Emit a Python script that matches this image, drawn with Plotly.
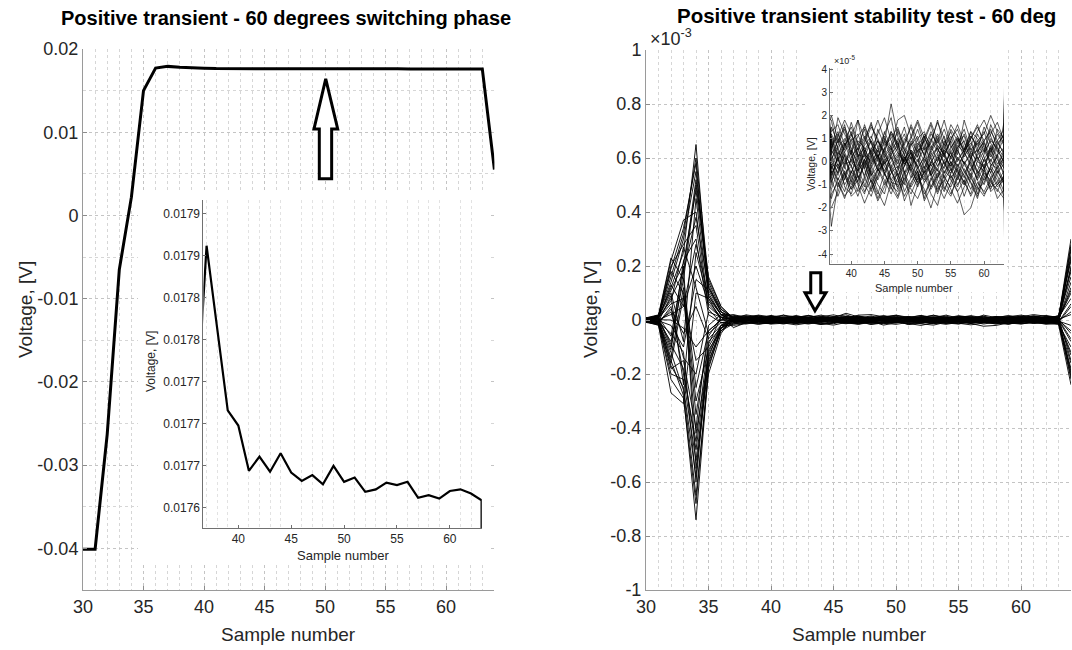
import plotly.graph_objects as go

W, H = 1072, 650
FONT = "Liberation Sans, Arial, sans-serif"

samples = list(range(30, 65))

# left panel: one switching event at 60 degrees, volts (x = 30..64)
voltage_60deg = [-0.0401, -0.0401, -0.0263, -0.0065, 0.0022, 0.0150, 0.0177,
                 0.017912, 0.017814, 0.017716, 0.017698, 0.017644, 0.017661, 0.017643,
                 0.017665, 0.017642, 0.017632, 0.017639, 0.017628, 0.017650, 0.017631,
                 0.017636, 0.017619, 0.017622, 0.017630, 0.017627, 0.017631, 0.017612,
                 0.017615, 0.017611, 0.017620, 0.017622, 0.017617, 0.017609, 0.0055]

# right panel: repeated runs
# samples 30..36 in 1e-3 V
run_start_mv = [
    [0.005, 0.010, 0.12, 0.25, 0.65, 0.10, 0.02],
    [-0.004, -0.010, -0.15, -0.28, -0.74, -0.18, -0.03],
    [0.002, 0.015, 0.22, 0.37, 0.40, 0.05, 0.01],
    [-0.006, -0.020, -0.27, -0.31, 0.10, 0.08, 0.02],
    [0.003, 0.005, 0.08, 0.18, 0.52, 0.14, 0.04],
    [-0.002, -0.008, -0.05, -0.12, -0.60, -0.12, -0.02],
    [0.008, 0.012, 0.18, 0.10, -0.35, -0.06, 0.01],
    [-0.005, 0.004, -0.10, 0.22, 0.30, 0.02, -0.01],
    [0.001, -0.012, 0.05, -0.20, -0.45, -0.08, -0.03],
    [0.004, 0.018, 0.14, 0.30, 0.55, 0.12, 0.03],
    [-0.007, -0.015, -0.20, -0.22, -0.52, -0.15, -0.04],
    [0.006, 0.002, 0.02, 0.05, 0.20, 0.06, 0.01],
    [-0.003, -0.005, -0.08, 0.15, -0.25, -0.04, 0.00],
    [0.002, 0.009, 0.10, -0.08, 0.45, 0.09, 0.02],
    [-0.009, -0.018, -0.12, -0.26, -0.65, -0.20, -0.05],
    [0.007, 0.014, 0.20, 0.28, 0.35, 0.04, -0.01],
    [0.000, -0.003, -0.02, -0.10, 0.15, 0.11, 0.03],
    [-0.004, 0.007, 0.06, 0.08, -0.15, -0.10, -0.02],
    [0.003, -0.010, -0.18, -0.15, -0.40, -0.02, 0.02],
    [0.005, 0.016, 0.16, 0.32, 0.60, 0.15, 0.05],
    [-0.006, -0.012, 0.04, -0.05, 0.05, -0.07, -0.02],
    [0.001, 0.011, -0.06, 0.20, -0.55, -0.16, -0.03],
    [-0.008, -0.006, 0.09, -0.24, 0.25, 0.07, 0.01],
    [0.004, 0.003, -0.14, 0.12, -0.30, -0.11, -0.04],
    [0.006, 0.013, 0.11, 0.21, 0.48, 0.13, 0.03],
    [-0.005, -0.014, -0.17, -0.25, -0.58, -0.09, 0.01],
    [0.002, 0.006, 0.13, 0.05, 0.28, 0.09, 0.02],
    [-0.003, 0.008, -0.09, -0.18, -0.48, -0.13, -0.03],
    [0.007, 0.017, 0.19, 0.34, 0.58, 0.08, 0.00],
    [-0.002, -0.004, 0.03, -0.14, -0.20, 0.03, 0.01],
    [0.004, -0.007, -0.11, 0.18, 0.38, 0.12, 0.04],
    [-0.007, -0.016, -0.22, -0.29, -0.68, -0.17, -0.04],
    [0.001, 0.012, 0.07, 0.27, 0.12, -0.05, -0.01],
    [-0.006, -0.002, -0.16, 0.09, -0.42, -0.14, -0.02],
    [0.008, 0.019, 0.23, 0.15, 0.50, 0.16, 0.05],
    [-0.001, 0.001, 0.00, -0.03, -0.10, -0.04, 0.00],
]

# samples 37..63 in 1e-5 V
run_steady_e5 = [
    [1.8, 0.5, -0.3, 0.9, 1.2, 0.4, -0.6, 0.2, 0.8, 2.5, 1.1, 0.3, -0.4, 0.6, 0.9, -0.2, 0.1, 0.7, 1.3, 0.5, -0.1, 0.4, 0.8, 0.2, -0.5, 0.3, 0.6],
    [-1.2, -0.4, 0.3, -0.8, -1.5, -0.6, 0.2, -0.3, -1.0, -0.5, 0.1, -0.9, -1.4, -0.7, -0.2, -1.1, -0.6, 0.0, -0.8, -1.3, -2.3, -2.0, -1.1, -0.4, -0.9, -1.2, -1.6],
    [0.4, 1.9, 1.2, 0.6, -0.2, 0.8, 1.5, 1.0, 0.3, 0.7, 1.8, 2.0, 1.1, 0.4, 0.9, 1.6, 0.5, 0.2, 1.0, 1.4, 0.6, 0.1, 0.9, 1.2, 2.0, 1.3, 0.8],
    [-0.6, 0.2, -1.1, -1.4, -0.5, 0.1, -0.7, -1.6, -0.9, -0.3, -1.2, -0.4, -1.9, -1.0, -0.6, -0.1, -0.8, -1.3, -0.5, 0.2, -0.4, -0.9, -1.5, -0.7, -0.3, -1.0, -0.6],
    [0.9, 0.1, 0.6, 1.7, 0.8, -0.1, 0.5, 1.2, 1.9, 0.9, 0.4, 0.0, 0.7, 1.4, 0.5, 0.8, 1.8, 0.6, 0.2, 0.9, 1.1, 0.3, 0.5, 1.5, 0.8, 0.2, 1.7],
    [-2.0, -1.3, -0.5, -0.2, -0.9, -1.4, -0.3, 0.3, -0.5, -1.1, -1.6, -0.8, -0.2, -0.6, -1.2, -2.0, -1.0, -0.4, -0.7, -0.3, -0.9, -1.4, -0.6, 0.1, -0.5, -1.1, -0.8],
    [0.2, -0.6, 0.8, 0.3, 1.8, 1.0, 0.4, -0.2, 0.6, 1.3, 0.7, 0.1, 0.5, -0.3, 0.2, 0.9, 1.7, 1.0, 0.4, -0.2, 0.3, 1.0, 1.6, 0.7, 0.2, 0.8, 0.4],
    [-0.3, 0.6, -0.2, -0.9, 0.1, 0.7, 1.1, 0.3, -0.4, 0.2, -0.6, -1.0, 0.0, 0.8, 0.3, -0.5, 0.2, -0.3, 0.6, 1.0, 0.4, -0.2, -0.7, 0.1, 0.6, -0.1, 0.3],
    [1.5, 0.8, 1.6, 0.2, -0.4, 0.5, 1.0, 1.8, 0.9, 0.1, 0.6, 1.2, 0.3, -0.2, 1.1, 0.4, 0.9, 1.8, 0.7, 0.0, 0.5, 1.3, 0.4, 0.9, 1.4, 0.6, -0.1],
    [-0.8, -1.5, -0.7, 0.1, -0.3, -1.0, -1.5, -0.6, 0.2, -0.4, -0.9, -0.2, 0.4, -0.5, -1.4, -0.8, -0.3, -1.1, -1.5, -0.6, 0.0, -0.7, -1.2, -0.9, -0.2, -0.6, -1.3],
    [0.6, 1.2, 0.2, -0.5, 0.4, 1.6, 0.8, 0.0, 1.3, 0.6, -0.3, 0.5, 1.0, 1.7, 0.7, 0.1, -0.4, 0.6, 1.1, 0.3, 1.8, 0.9, 0.2, -0.3, 0.5, 1.2, 0.7],
    [-2.8, -1.0, -0.4, -1.2, -0.8, -0.1, -0.9, -1.7, -1.1, -0.5, -0.2, -1.3, -0.7, 0.1, -0.6, -1.4, -1.9, -0.8, -0.3, -1.0, -0.5, 0.0, -0.8, -1.4, -1.0, -0.4, -0.9],
    [0.1, 0.7, 1.4, 0.5, 0.0, -0.6, 0.3, 0.9, 0.4, -0.3, 0.2, 0.8, 1.5, 0.6, 0.0, 0.4, -0.2, 0.3, 0.9, 1.6, 0.8, 0.2, -0.4, 0.3, 1.0, 0.5, 0.0],
    [-0.5, -0.1, -0.8, 0.2, 0.6, -0.3, -1.2, -0.6, 0.1, -0.8, -0.3, 0.3, -0.5, -1.1, -0.4, 0.2, -0.7, -0.2, 0.4, -0.4, -1.0, -0.3, 0.2, -0.6, -1.2, -0.5, 0.1],
    [1.1, 0.3, 0.9, 1.5, 0.7, 1.4, 0.2, 0.6, 1.2, 1.9, 0.5, -0.1, 0.8, 0.2, 1.0, 1.7, 0.9, 0.3, -0.2, 0.7, 0.4, 1.1, 0.6, 0.0, 0.3, 1.4, 1.0],
    [-1.6, -0.7, -1.3, -0.4, -1.0, -1.8, -1.1, -0.3, -0.8, -1.4, -0.7, -1.5, -0.9, -0.4, -1.7, -1.1, -0.5, -1.2, -0.6, -1.3, -0.8, -1.5, -0.9, -1.3, -0.7, -1.6, -1.2],
    [0.8, -0.2, 0.4, 1.0, 0.2, 0.9, 1.7, 0.6, -0.1, 0.4, 1.0, 0.5, -0.2, 0.3, 1.2, 0.7, 0.0, 0.5, 0.2, 0.8, 1.4, 0.5, 0.9, 0.4, 1.6, 0.9, 0.3],
    [-0.1, -0.9, -1.6, -0.7, -0.2, 0.5, -0.4, -1.0, -1.4, -0.2, 0.3, -0.5, -1.1, -0.6, 0.1, -0.3, -1.0, -1.6, -0.9, -0.1, -0.6, -1.2, -0.4, -0.8, -0.3, -0.8, -1.5],
    [1.3, 1.6, 0.7, 1.1, 1.8, 0.3, 0.0, 1.4, 0.7, 1.0, 1.5, 0.6, 0.2, 1.0, 1.3, 0.5, 1.1, 0.4, 1.4, 0.9, 0.2, 0.7, 1.3, 1.8, 1.1, 0.4, 1.0],
    [0.3, -0.3, 0.0, 0.5, -0.7, -0.2, 0.6, 0.2, -0.5, 0.0, 0.4, -0.1, 0.2, -0.8, -0.3, 0.3, 0.6, -0.1, -0.5, 0.1, 0.0, -0.4, 0.3, 0.5, -0.1, -0.3, 0.2],
    [-1.0, 0.4, 0.1, -0.6, -1.3, -0.8, -0.1, 0.5, -0.2, -0.9, -1.0, 0.2, -0.3, -0.9, -0.5, 0.0, -0.4, -0.7, 0.0, -0.5, -1.5, -0.7, 0.0, -0.2, -1.1, -0.9, -0.4],
    [0.0, 1.0, 0.5, 1.3, 0.3, 0.2, 0.9, 0.4, 1.0, 0.6, -0.1, 1.0, 0.7, 1.1, 0.2, 1.0, 0.4, 1.1, 0.1, 0.6, 0.9, 0.1, 1.2, 0.6, 0.0, 0.7, 1.2],
    [2.0, 0.9, -0.1, 0.0, 0.9, 0.6, -0.2, -0.8, 0.0, 0.5, 0.9, -0.5, -0.1, 0.5, 0.6, -0.6, 0.0, 0.9, -0.1, -0.7, 0.3, 0.6, -0.2, -0.4, 0.7, 0.1, -0.5],
    [-0.4, -1.1, -0.5, -1.5, -1.2, 0.1, -0.5, -1.3, -1.9, -0.9, -0.5, -1.7, -1.0, -0.4, -1.6, -0.7, -1.4, -0.6, -1.2, -1.8, -1.1, -0.6, -1.4, -0.3, -1.3, -1.0, -0.7],
    [0.7, 1.3, 0.4, -0.2, 0.6, 1.1, 0.3, -0.4, 0.5, 1.2, 0.6, 0.0, 0.9, 0.4, -0.3, 0.5, 1.0, 0.2, -0.2, 0.6, 1.2, 0.4, 0.0, 0.8, 0.3, -0.2, 0.5],
    [-0.9, -0.2, -1.0, -0.5, 0.2, -0.7, -1.3, -0.4, 0.0, -0.8, -1.5, -0.6, -0.1, -1.0, -0.4, -1.2, -0.7, 0.1, -0.6, -1.1, -0.3, -0.9, -1.6, -0.5, -0.8, -0.2, -0.9],
    [0.5, 0.0, 0.7, 1.2, 0.3, -0.3, 0.4, 0.9, 0.2, 0.6, 1.3, 0.5, 0.1, 0.7, 1.1, 0.2, 0.6, -0.1, 0.4, 1.0, 0.5, 0.8, 0.1, 0.4, 0.9, 0.6, 0.2],
    [-0.2, -0.8, -0.1, 0.4, -0.6, -1.1, -0.2, 0.3, -0.5, -1.2, -0.4, 0.1, -0.7, -0.3, 0.2, -0.6, -1.3, -0.5, 0.0, -0.4, -0.9, 0.1, -0.5, -1.0, -0.2, 0.2, -0.6],
    [1.2, 0.6, 1.0, 0.4, 1.1, 1.5, 0.8, 0.2, 0.9, 0.5, 1.4, 0.7, 1.6, 0.9, 0.3, 1.2, 0.8, 1.4, 0.6, 1.1, 0.5, 1.3, 1.0, 0.5, 1.2, 1.7, 0.9],
    [0.0, -0.5, 0.3, -0.2, -0.9, 0.1, 0.5, -0.4, -0.1, 0.3, -0.6, -0.2, 0.4, -0.3, -0.8, 0.0, 0.4, -0.5, 0.2, -0.2, -0.7, 0.2, 0.5, -0.3, 0.1, -0.5, -0.1],
    [0.3, 0.9, 1.5, 0.8, 0.2, 0.6, -0.1, 0.5, 1.1, 0.3, 0.7, 1.5, 0.4, 0.0, 0.6, 1.3, 0.7, 0.3, 0.9, 0.1, 0.5, 1.1, 0.7, 1.3, 0.4, 0.9, 1.4],
    [-1.4, -0.9, -1.5, -1.1, -0.6, -1.3, -0.8, -1.4, -0.5, -1.0, -1.3, -0.7, -1.2, -1.6, -0.9, -0.5, -1.2, -0.8, -1.4, -0.7, -1.0, -0.5, -1.1, -1.5, -0.8, -1.3, -0.6],
    [-0.7, 0.2, 0.8, 0.0, -0.4, 0.4, 0.9, 0.1, -0.6, 0.3, 0.8, -0.2, 0.5, 0.2, -0.5, -0.1, 0.7, 0.3, -0.4, 0.5, -0.1, -0.6, 0.4, 0.9, -0.2, 0.3, -0.3],
    [1.0, 0.2, -0.5, -1.0, -0.3, 0.3, -0.6, -0.2, 0.6, -0.4, -1.1, -0.5, 0.2, -0.2, -0.9, -0.4, 0.3, -0.7, -1.1, -0.3, 0.4, -0.1, -0.8, -0.2, 0.6, -0.4, -1.0],
    [0.6, 1.1, 1.8, 1.2, 0.5, 1.0, 1.6, 0.9, 0.4, 1.3, 0.8, 0.3, 1.1, 1.8, 1.0, 0.6, 1.2, 0.7, 1.6, 1.1, 0.4, 1.0, 1.5, 0.9, 1.3, 0.8, 1.1],
    [-0.3, 0.1, -0.6, -1.2, -0.4, 0.0, -0.9, -0.3, 0.3, -0.2, -0.7, 0.2, -0.4, -0.9, 0.0, -0.6, -0.2, 0.4, -0.3, -0.8, -0.1, 0.3, -0.5, -0.1, -0.7, -0.3, 0.2],
]

# sample 64 in 1e-3 V
run_end_mv = [0.30, -0.24, 0.18, -0.12, 0.22, -0.18, 0.10, -0.05, 0.14, 0.26, -0.20, 0.05,
              -0.08, 0.12, -0.15, 0.20, 0.02, -0.10, 0.08, 0.28, -0.02, 0.16, -0.22, 0.06,
              0.24, -0.19, 0.11, -0.13, 0.27, -0.04, 0.19, -0.21, 0.03, -0.16, 0.23, -0.07]

left_yticks = [-0.04, -0.03, -0.02, -0.01, 0, 0.01, 0.02]
left_yticktext = ["-0.04", "-0.03", "-0.02", "-0.01", "0", "0.01", "0.02"]
inset_left_yticks = [0.0176, 0.01765, 0.0177, 0.01775, 0.0178, 0.01785, 0.0179, 0.01795]
inset_left_yticktext = ["0.0176", "0.0177", "0.0177", "0.0177", "0.0178", "0.0178", "0.0179", "0.0179"]
right_yticks = [-1, -0.8, -0.6, -0.4, -0.2, 0, 0.2, 0.4, 0.6, 0.8, 1]
right_yticktext = ["-1", "-0.8", "-0.6", "-0.4", "-0.2", "0", "0.2", "0.4", "0.6", "0.8", "1"]
inset_right_yticks = [-4, -3, -2, -1, 0, 1, 2, 3, 4]
inset_right_yticktext = ["-4", "-3", "-2", "-1", "0", "1", "2", "3", "4"]


def px(x):
    return x / W


def py(y):
    return 1 - y / H


def main_axis(dom, rng, anchor, **kw):
    d = dict(domain=dom, range=rng, anchor=anchor, automargin=False, showline=True,
             linecolor="#9a9a9a", linewidth=1, mirror=False, zeroline=False, showgrid=True,
             gridcolor="#c4c4c4", griddash="dot", gridwidth=1, ticks="inside", ticklen=4,
             tickcolor="#8c8c8c", tickfont=dict(family=FONT, size=18, color="#262626"))
    d.update(kw)
    return d


def inset_axis(dom, rng, anchor, size, **kw):
    d = dict(domain=dom, range=rng, anchor=anchor, automargin=False, showline=True,
             linecolor="#707070", linewidth=1, mirror=False, zeroline=False, showgrid=False,
             ticks="inside", ticklen=3, tickcolor="#707070",
             tickfont=dict(family=FONT, size=size, color="#262626"))
    d.update(kw)
    return d


def cover_axis(dom, anchor):
    return dict(domain=dom, range=[0, 1], anchor=anchor, visible=False, automargin=False,
                showgrid=False, zeroline=False)


fig = go.Figure()

# main panels
fig.add_trace(go.Scatter(x=samples, y=voltage_60deg, mode="lines",
                         line=dict(color="black", width=3), xaxis="x", yaxis="y"))
for i in range(len(run_steady_e5)):
    y = run_start_mv[i] + [v / 100 for v in run_steady_e5[i]] + [run_end_mv[i]]
    fig.add_trace(go.Scatter(x=samples, y=y, mode="lines",
                             line=dict(color="black", width=0.9), xaxis="x2", yaxis="y2"))

# white boxes behind the insets
fig.add_trace(go.Scatter(x=[], y=[], xaxis="x3", yaxis="y3"))
fig.add_trace(go.Scatter(x=[], y=[], xaxis="x4", yaxis="y4"))

# insets
fig.add_trace(go.Scatter(x=samples, y=voltage_60deg, mode="lines",
                         line=dict(color="black", width=2.2), xaxis="x5", yaxis="y5"))
for i in range(len(run_steady_e5)):
    y = [v * 100 for v in run_start_mv[i]] + run_steady_e5[i] + [run_end_mv[i] * 100]
    fig.add_trace(go.Scatter(x=samples, y=y, mode="lines",
                             line=dict(color="rgba(0,0,0,0.9)", width=0.7), xaxis="x6", yaxis="y6"))

minor_x = dict(dtick=1, tick0=30, showgrid=True, gridcolor="#d6d6d6", griddash="dot", ticks="")

fig.update_layout(
    width=W, height=H, margin=dict(l=0, r=0, t=0, b=0, autoexpand=False),
    paper_bgcolor="white", plot_bgcolor="white", showlegend=False,
    xaxis=main_axis([px(83), px(494.4)], [30, 64], "y", dtick=5, tick0=30, minor=minor_x),
    yaxis=main_axis([py(590), py(49)], [-0.045, 0.02], "x", tickmode="array",
                    tickvals=left_yticks, ticktext=left_yticktext,
                    minor=dict(dtick=0.005, tick0=0, showgrid=True, gridcolor="#d6d6d6",
                               griddash="dot", ticks="")),
    xaxis2=main_axis([px(646), px(1071)], [30, 64], "y2", dtick=5, tick0=30, minor=minor_x),
    yaxis2=main_axis([py(590), py(50)], [-1, 1], "x2", tickmode="array",
                     tickvals=right_yticks, ticktext=right_yticktext),
    xaxis3=cover_axis([px(138), px(488)], "y3"),
    yaxis3=cover_axis([py(562), py(190)], "x3"),
    xaxis4=cover_axis([px(805), px(1007)], "y4"),
    yaxis4=cover_axis([py(292), py(45)], "x4"),
    xaxis5=inset_axis([px(203.4), px(481.8)], [36.7, 63.02], "y5", 12, dtick=5, tick0=30,
                      minor=dict(dtick=1, tick0=30, showgrid=True, gridcolor="#e2e2e2",
                                 griddash="dot", ticks="")),
    yaxis5=inset_axis([py(528), py(199.5)], [0.017576, 0.017967], "x5", 12, tickmode="array",
                      tickvals=inset_left_yticks, ticktext=inset_left_yticktext),
    xaxis6=inset_axis([px(830), px(1004)], [36.8, 63], "y6", 10, dtick=5, tick0=30,
                      minor=dict(dtick=1, tick0=30, showgrid=True, gridcolor="#e2e2e2",
                                 griddash="dot", ticks="")),
    yaxis6=inset_axis([py(264), py(68)], [-4.43, 4.05], "x6", 10, tickmode="array",
                      tickvals=inset_right_yticks, ticktext=inset_right_yticktext),
)

# hollow block arrows pointing at the zoomed regions
up_arrow = [(50.06, 0.0164), (51.05, 0.0104), (50.55, 0.0104), (50.55, 0.0044),
            (49.53, 0.0044), (49.53, 0.0104), (49.09, 0.0104)]
down_arrow = [(43.52, 0.034), (44.4, 0.101), (43.98, 0.101), (43.98, 0.175),
              (43.18, 0.175), (43.18, 0.101), (42.72, 0.101)]


def arrow_path(pts):
    return "M " + " L ".join(f"{x},{y}" for x, y in pts) + " Z"


fig.add_shape(type="path", path=arrow_path(up_arrow), xref="x", yref="y",
              line=dict(color="black", width=3), fillcolor="white", layer="above")
fig.add_shape(type="path", path=arrow_path(down_arrow), xref="x2", yref="y2",
              line=dict(color="black", width=3), fillcolor="white", layer="above")

txt = dict(family=FONT, color="#262626")
annotations = [
    dict(text="<b>Positive transient - 60 degrees switching phase</b>", x=px(285.5), y=py(18),
         font=dict(family=FONT, size=20, color="black")),
    dict(text="<b>Positive transient stability test - 60 deg</b>", x=px(866.7), y=py(16),
         font=dict(family=FONT, size=20.5, color="black")),
    dict(text="Voltage, [V]", x=px(25), y=py(310), textangle=-90, font=dict(size=19, **txt)),
    dict(text="Voltage, [V]", x=px(590), y=py(310), textangle=-90, font=dict(size=19, **txt)),
    dict(text="Sample number", x=px(288), y=py(634), font=dict(size=19, **txt)),
    dict(text="Sample number", x=px(859), y=py(634), font=dict(size=19, **txt)),
    dict(text="Voltage, [V]", x=px(151), y=py(362), textangle=-90, font=dict(size=12, **txt)),
    dict(text="Sample number", x=px(343), y=py(555), font=dict(size=13, **txt)),
    dict(text="Voltage, [V]", x=px(811), y=py(164), textangle=-90, font=dict(size=10.5, **txt)),
    dict(text="Sample number", x=px(914), y=py(288), font=dict(size=11, **txt)),
    dict(text="×10<sup>-3</sup>", x=px(648), y=py(38), xanchor="left", font=dict(size=18, **txt)),
    dict(text="×10<sup>-5</sup>", x=px(832), y=py(60), xanchor="left", font=dict(size=9, **txt)),
]
for a in annotations:
    a.setdefault("xanchor", "center")
    fig.add_annotation(xref="paper", yref="paper", showarrow=False, yanchor="middle", **a)

# the page body has a default 8px margin; drop it so the figure sits at the window origin
fig.write_html("out.html", config={"displayModeBar": False},
               post_script="document.body.style.margin='0';")
